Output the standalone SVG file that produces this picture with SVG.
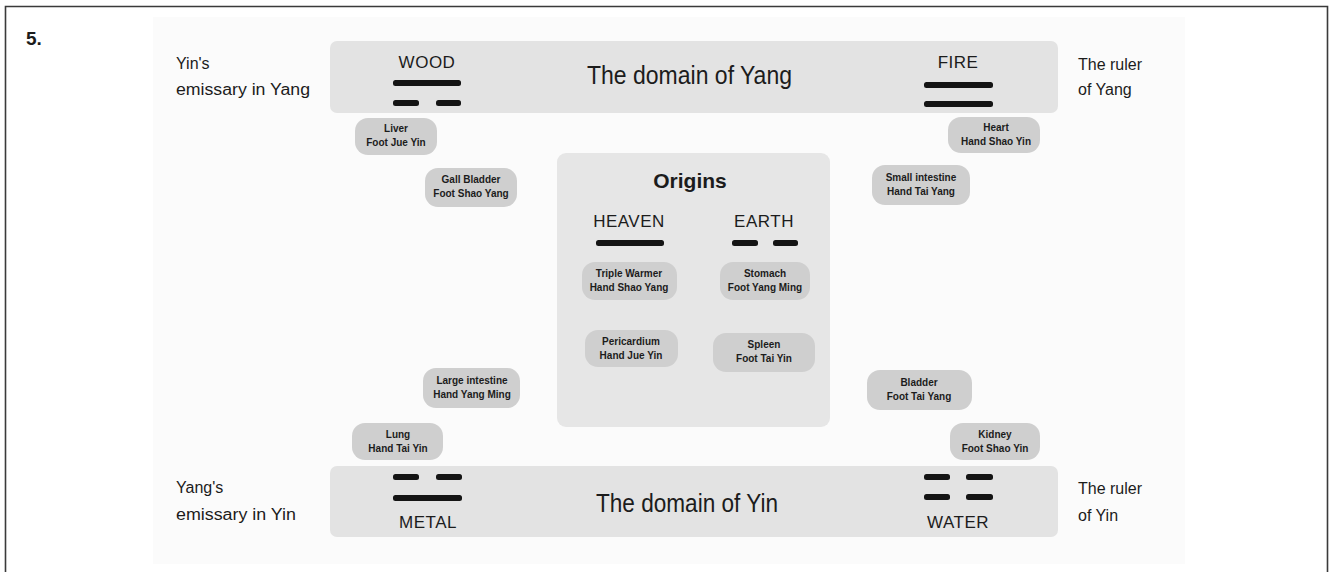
<svg xmlns="http://www.w3.org/2000/svg" width="1335" height="572" viewBox="0 0 1335 572">
<style>
  .band{fill:#e3e3e3}
  .box{fill:#e6e6e6}
  .pill{fill:#cfcfcf}
  .bar{fill:#141414}
  text{font-family:"Liberation Sans","DejaVu Sans",sans-serif;fill:#1c1c1c}
  .side{font-size:16px}
  .title{font-size:25px}
  .elem{font-size:17px;letter-spacing:0.5px}
  .lbl{font-size:10px;font-weight:bold;text-anchor:middle}
  .mid{text-anchor:middle}
</style>
<rect x="0" y="0" width="1335" height="572" fill="#ffffff"/>
<rect x="153" y="17" width="1032" height="547" fill="#fbfbfb"/>
<path d="M5.5,572 V6.5 H1327.5 V572" fill="none" stroke="#3a3a3a" stroke-width="1.6"/>
<text x="26" y="45" style="font-size:19px;font-weight:bold">5.</text>

<g id="yang-domain">
  <rect class="band" x="330" y="41" width="728" height="72" rx="7"/>
  <text class="title" x="587" y="84" textLength="205" lengthAdjust="spacingAndGlyphs">The domain of Yang</text>
</g>
<g id="wood">
  <text class="elem mid" x="427" y="68">WOOD</text>
  <rect class="bar" x="393" y="80" width="68" height="6" rx="2.5"/>
  <rect class="bar" x="393" y="100" width="26" height="6" rx="2.5"/>
  <rect class="bar" x="436" y="100" width="25" height="6" rx="2.5"/>
</g>
<g id="fire">
  <text class="elem mid" x="958" y="68">FIRE</text>
  <rect class="bar" x="924" y="82" width="69" height="6" rx="2.5"/>
  <rect class="bar" x="924" y="101" width="69" height="6" rx="2.5"/>
</g>
<g id="yin-emissary-in-yang">
  <text class="side" x="176" y="69">Yin's</text>
  <text class="side" x="176" y="95" textLength="134" lengthAdjust="spacingAndGlyphs">emissary in Yang</text>
</g>
<g id="ruler-of-yang">
  <text class="side" x="1078" y="70">The ruler</text>
  <text class="side" x="1078" y="95">of Yang</text>
</g>

<g id="yin-domain">
  <rect class="band" x="330" y="466" width="728" height="71" rx="7"/>
  <text class="title" x="596" y="512" textLength="182" lengthAdjust="spacingAndGlyphs">The domain of Yin</text>
</g>
<g id="metal">
  <rect class="bar" x="393" y="474" width="26" height="6" rx="2.5"/>
  <rect class="bar" x="436" y="474" width="26" height="6" rx="2.5"/>
  <rect class="bar" x="393" y="495" width="69" height="6" rx="2.5"/>
  <text class="elem mid" x="428" y="528">METAL</text>
</g>
<g id="water">
  <rect class="bar" x="924" y="474" width="26" height="6" rx="2.5"/>
  <rect class="bar" x="966" y="474" width="27" height="6" rx="2.5"/>
  <rect class="bar" x="924" y="494" width="26" height="6" rx="2.5"/>
  <rect class="bar" x="966" y="494" width="27" height="6" rx="2.5"/>
  <text class="elem mid" x="958" y="528">WATER</text>
</g>
<g id="yang-emissary-in-yin">
  <text class="side" x="176" y="493">Yang's</text>
  <text class="side" x="176" y="520" textLength="120" lengthAdjust="spacingAndGlyphs">emissary in Yin</text>
</g>
<g id="ruler-of-yin">
  <text class="side" x="1078" y="494">The ruler</text>
  <text class="side" x="1078" y="521">of Yin</text>
</g>

<g id="origins">
  <rect class="box" x="557" y="153" width="273" height="274" rx="9"/>
  <text class="mid" x="690" y="188" style="font-size:21px;font-weight:bold">Origins</text>
</g>
<g id="heaven">
  <text class="elem mid" x="629" y="227">HEAVEN</text>
  <rect class="bar" x="596" y="240" width="68" height="6" rx="2.5"/>
</g>
<g id="earth">
  <text class="elem mid" x="764" y="227">EARTH</text>
  <rect class="bar" x="732" y="240" width="26" height="6" rx="2.5"/>
  <rect class="bar" x="773" y="240" width="25" height="6" rx="2.5"/>
</g>

<g id="liver">
  <rect class="pill" x="355" y="118" width="82" height="37" rx="13"/>
  <text class="lbl" x="396" y="132">Liver</text>
  <text class="lbl" x="396" y="146">Foot Jue Yin</text>
</g>
<g id="heart">
  <rect class="pill" x="948" y="117" width="92" height="36" rx="13"/>
  <text class="lbl" x="996" y="131">Heart</text>
  <text class="lbl" x="996" y="145">Hand Shao Yin</text>
</g>
<g id="gall-bladder">
  <rect class="pill" x="425" y="168" width="92" height="39" rx="13"/>
  <text class="lbl" x="471" y="183">Gall Bladder</text>
  <text class="lbl" x="471" y="197">Foot Shao Yang</text>
</g>
<g id="small-intestine">
  <rect class="pill" x="872" y="165" width="98" height="40" rx="13"/>
  <text class="lbl" x="921" y="181">Small intestine</text>
  <text class="lbl" x="921" y="195">Hand Tai Yang</text>
</g>
<g id="triple-warmer">
  <rect class="pill" x="582" y="262" width="95" height="38" rx="13"/>
  <text class="lbl" x="629" y="277">Triple Warmer</text>
  <text class="lbl" x="629" y="291">Hand Shao Yang</text>
</g>
<g id="stomach">
  <rect class="pill" x="720" y="262" width="90" height="38" rx="13"/>
  <text class="lbl" x="765" y="277">Stomach</text>
  <text class="lbl" x="765" y="291">Foot Yang Ming</text>
</g>
<g id="pericardium">
  <rect class="pill" x="585" y="330" width="93" height="37" rx="13"/>
  <text class="lbl" x="631" y="345">Pericardium</text>
  <text class="lbl" x="631" y="359">Hand Jue Yin</text>
</g>
<g id="spleen">
  <rect class="pill" x="713" y="333" width="102" height="39" rx="13"/>
  <text class="lbl" x="764" y="348">Spleen</text>
  <text class="lbl" x="764" y="362">Foot Tai Yin</text>
</g>
<g id="large-intestine">
  <rect class="pill" x="423" y="368" width="97" height="40" rx="13"/>
  <text class="lbl" x="472" y="384">Large intestine</text>
  <text class="lbl" x="472" y="398">Hand Yang Ming</text>
</g>
<g id="bladder">
  <rect class="pill" x="867" y="370" width="105" height="40" rx="13"/>
  <text class="lbl" x="919" y="386">Bladder</text>
  <text class="lbl" x="919" y="400">Foot Tai Yang</text>
</g>
<g id="lung">
  <rect class="pill" x="352" y="423" width="91" height="37" rx="13"/>
  <text class="lbl" x="398" y="438">Lung</text>
  <text class="lbl" x="398" y="452">Hand Tai Yin</text>
</g>
<g id="kidney">
  <rect class="pill" x="950" y="423" width="90" height="37" rx="13"/>
  <text class="lbl" x="995" y="438">Kidney</text>
  <text class="lbl" x="995" y="452">Foot Shao Yin</text>
</g>
</svg>
